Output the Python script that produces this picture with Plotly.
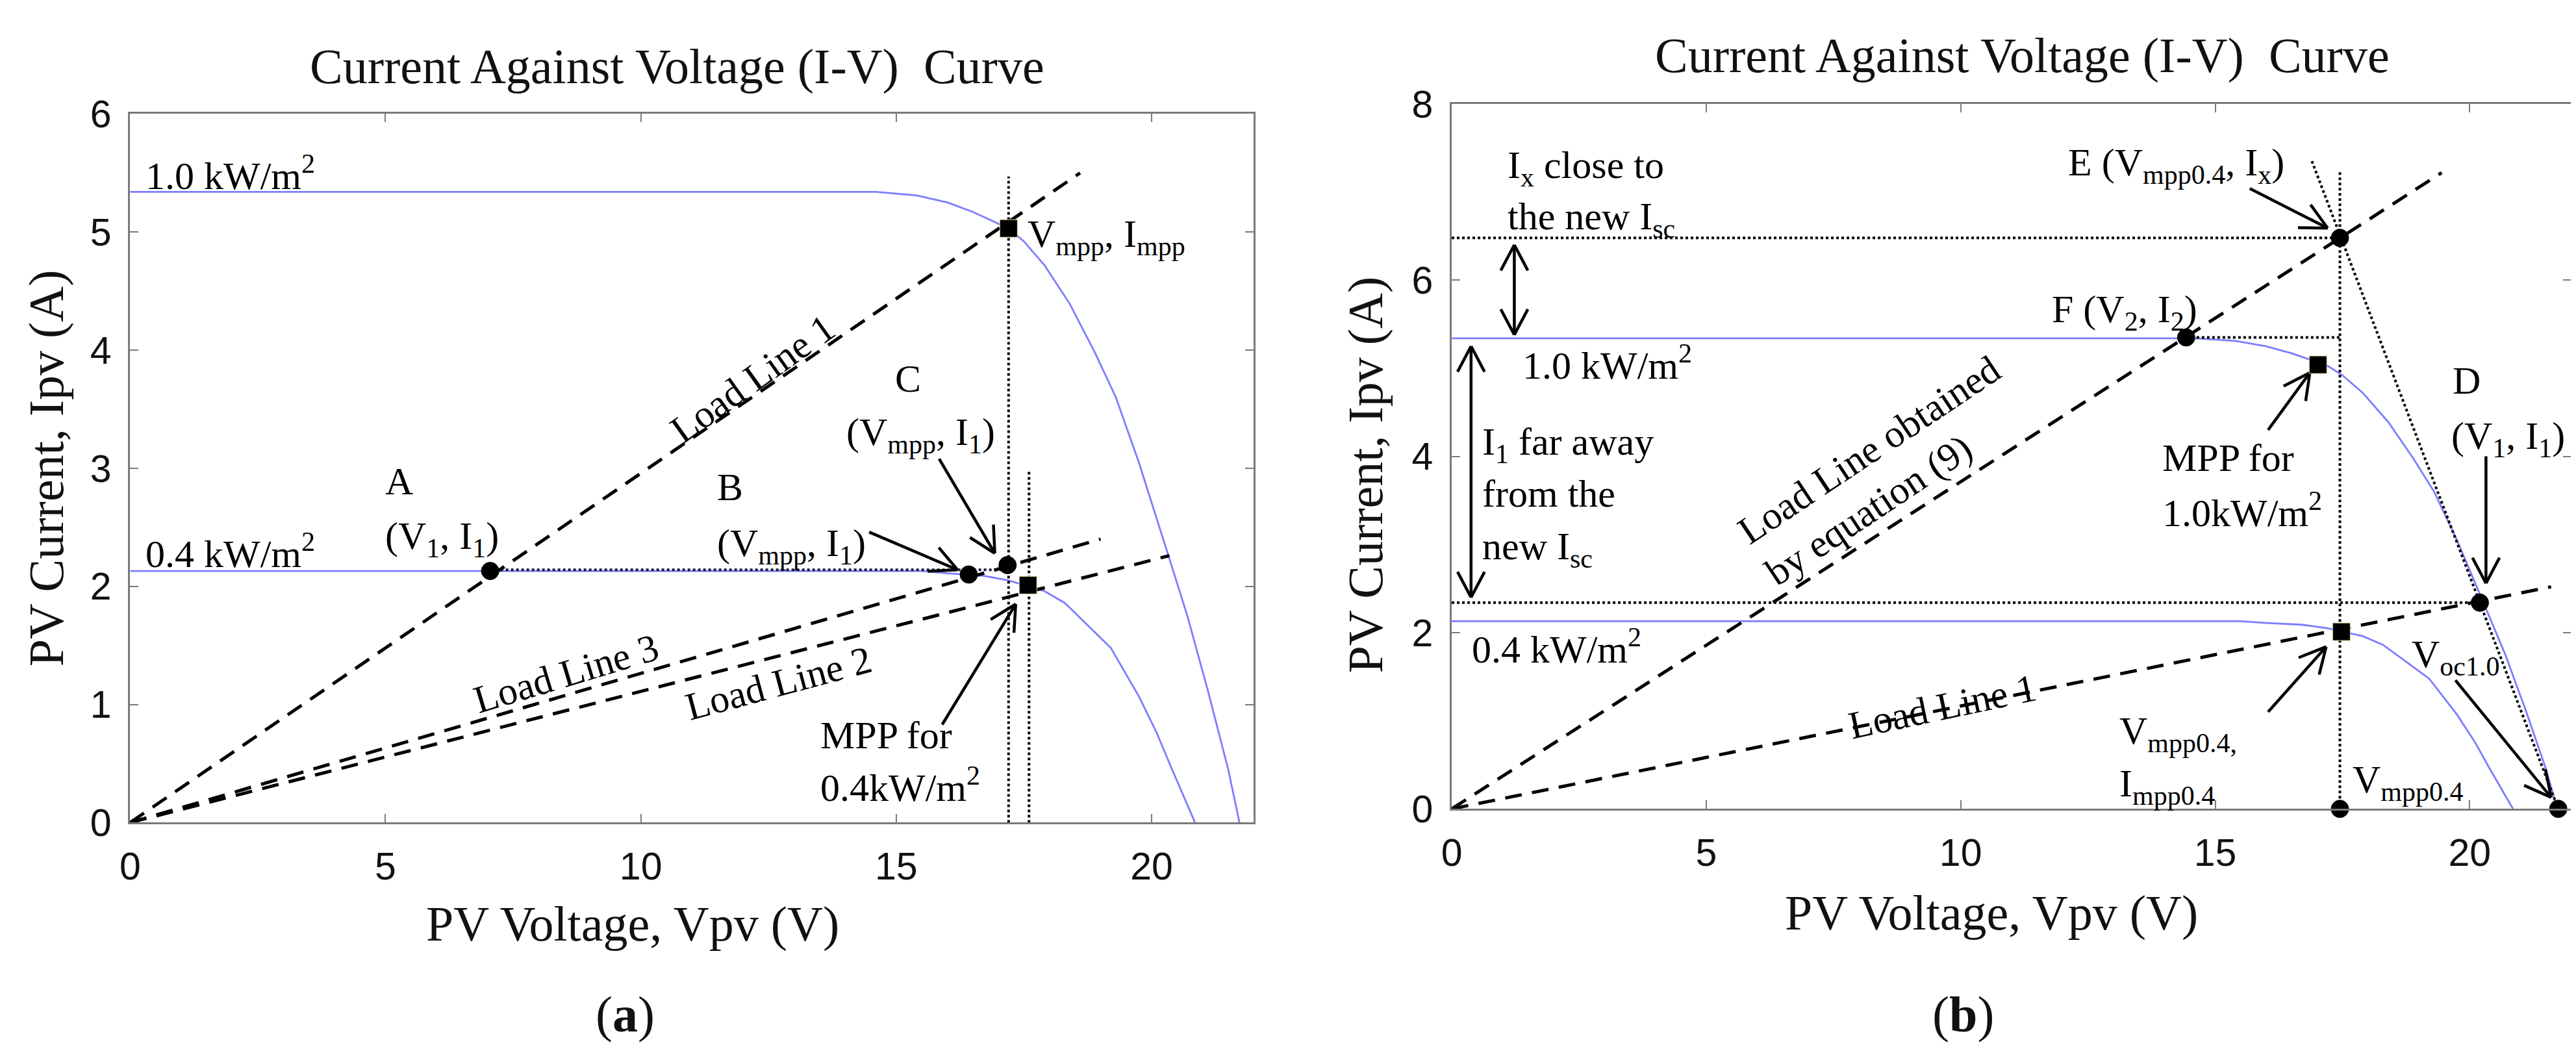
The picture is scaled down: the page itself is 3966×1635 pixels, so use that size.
import math
import plotly.graph_objects as go

W, H = 3966, 1635

# ---------------- data ----------------
# I-V curves (shared by both panels)
V_1000 = [0, 14.6, 15.4, 16.0, 16.5, 17.0, 17.2, 17.5, 17.9, 18.4, 18.9, 19.3, 19.75, 20.3, 20.7, 21.1, 21.5, 21.72]
I_1000 = [5.34, 5.34, 5.31, 5.25, 5.17, 5.07, 5.03, 4.92, 4.72, 4.39, 3.97, 3.60, 3.05, 2.30, 1.75, 1.12, 0.45, 0.0]
V_400 = [0, 15.5, 16.0, 16.7, 17.2, 17.5, 17.9, 18.3, 18.8, 19.2, 19.75, 20.1, 20.4, 20.85]
I_400 = [2.13, 2.13, 2.11, 2.09, 2.05, 2.01, 1.96, 1.86, 1.65, 1.48, 1.07, 0.76, 0.45, 0.0]

X_TICKS = [0, 5, 10, 15, 20]
YA_TICKS = [0, 1, 2, 3, 4, 5, 6]
YB_TICKS = [0, 2, 4, 6, 8]

# panel (a)
A_LL1_V, A_LL1_I = [0, 18.6], [0, 5.5]
A_LL3_V, A_LL3_I = [0, 19.0], [0, 2.40]
A_LL2_V, A_LL2_I = [0, 20.35], [0, 2.26]
A_DOTH_V, A_DOTH_I = [7.05, 17.2], [2.14, 2.14]
A_DOTV1_V, A_DOTV1_I = [17.2, 17.2], [0, 5.47]
A_DOTV2_V, A_DOTV2_I = [17.6, 17.6], [0, 2.98]
A_CIRC_V, A_CIRC_I = [7.05, 16.42, 17.18], [2.13, 2.10, 2.18]
A_SQ_V, A_SQ_I = [17.2, 17.58], [5.03, 2.01]

# panel (b)
B_LLEQ_V, B_LLEQ_I = [0, 19.45], [0, 7.22]
B_LL1_V, B_LL1_I = [0, 21.6], [0, 2.52]
B_STEEP_V, B_STEEP_I = [16.9, 21.74], [7.35, 0]
B_DOTH1_V, B_DOTH1_I = [0, 17.45], [6.48, 6.48]
B_DOTH2_V, B_DOTH2_I = [14.43, 17.45], [5.35, 5.35]
B_DOTH3_V, B_DOTH3_I = [0, 20.2], [2.34, 2.34]
B_DOTV_V, B_DOTV_I = [17.45, 17.45], [0, 7.25]
B_CIRC_V, B_CIRC_I = [17.45, 14.43, 20.2], [6.48, 5.35, 2.34]
B_CIRC0_V, B_CIRC0_I = [17.45, 21.74], [0, 0]
B_SQ_V, B_SQ_I = [17.02, 17.48], [5.04, 2.01]

# ---------------- layout geometry ----------------
XA_DOM = [177 / W, 1914 / W]
YA_DOM = [1 - 1278 / H, 1 - 141 / H]
XB_DOM = [2220 / W, 3951 / W]
YB_DOM = [1 - 1256 / H, 1 - 125 / H]
XR = [0, 22]
YA_R = [0, 6]
YB_R = [0, 8]

SERIF = "Liberation Serif"
SANS = "Liberation Sans"
BLUE = "#7d7dff"

def scale(xd, yd, xr, yr):
    return (xd[1] - xd[0]) * W / (xr[1] - xr[0]), (yd[1] - yd[0]) * H / (yr[1] - yr[0])

SA = scale(XA_DOM, YA_DOM, XR, YA_R)
SB = scale(XB_DOM, YB_DOM, XR, YB_R)

def arrows_path(items, s, L=46, ang=27):
    sx, sy = s
    xs, ys = [], []
    def barbs(tip, frm):
        dxp = (frm[0] - tip[0]) * sx
        dyp = (frm[1] - tip[1]) * sy
        n = math.hypot(dxp, dyp)
        ux, uy = dxp / n, dyp / n
        for sg in (1, -1):
            a = math.radians(ang * sg)
            rx = ux * math.cos(a) - uy * math.sin(a)
            ry = ux * math.sin(a) + uy * math.cos(a)
            xs.extend([tip[0], tip[0] + rx * L / sx, None])
            ys.extend([tip[1], tip[1] + ry * L / sy, None])
    for tail, head, both in items:
        xs.extend([tail[0], head[0], None])
        ys.extend([tail[1], head[1], None])
        barbs(head, tail)
        if both:
            barbs(tail, head)
    return xs, ys

A_ARROWS = [((14.47, 2.46), (16.2, 2.14), False),
            ((15.84, 3.08), (16.93, 2.28), False),
            ((15.9, 0.83), (17.34, 1.85), False)]
B_ARROWS = [((15.68, 7.04), (17.21, 6.59), False),
            ((1.23, 5.38), (1.23, 6.40), True),
            ((0.38, 2.40), (0.38, 5.25), True),
            ((20.32, 4.0), (20.32, 2.56), False),
            ((16.04, 4.3), (16.86, 4.95), False),
            ((16.04, 1.10), (17.18, 1.84), False),
            ((19.72, 1.46), (21.6, 0.13), False)]

fig = go.Figure()

def line(x, y, ax, color="black", width=4, dash="solid", clip=True):
    xa, ya = ("x", "y") if ax == 1 else ("x2", "y2")
    fig.add_trace(go.Scatter(x=x, y=y, xaxis=xa, yaxis=ya, mode="lines",
                             line=dict(color=color, width=width, dash=dash),
                             showlegend=False, hoverinfo="skip", cliponaxis=clip))

def marks(x, y, ax, symbol, size=26, clip=True):
    xa, ya = ("x", "y") if ax == 1 else ("x2", "y2")
    fig.add_trace(go.Scatter(x=x, y=y, xaxis=xa, yaxis=ya, mode="markers",
                             marker=dict(symbol=symbol, size=size, color="black",
                                         line=dict(width=1, color="#d8d29a" if symbol == "square" else "black")),
                             showlegend=False, hoverinfo="skip", cliponaxis=clip))

DASH = "26px,16px"
DOT = "dot"

# panel a
line(V_1000, I_1000, 1, BLUE, 2.8)
line(V_400, I_400, 1, BLUE, 2.8)
line(A_DOTH_V, A_DOTH_I, 1, "#1a1a40", 4, DOT)
line(A_DOTV1_V, A_DOTV1_I, 1, "black", 4, DOT)
line(A_DOTV2_V, A_DOTV2_I, 1, "black", 4, DOT)
line(A_LL1_V, A_LL1_I, 1, "black", 5, DASH)
line(A_LL3_V, A_LL3_I, 1, "black", 5, DASH)
line(A_LL2_V, A_LL2_I, 1, "black", 5, DASH)
ax_, ay_ = arrows_path(A_ARROWS, SA)
line(ax_, ay_, 1, "black", 4.5)
marks(A_CIRC_V, A_CIRC_I, 1, "circle", 27)
marks(A_SQ_V, A_SQ_I, 1, "square", 27)

# panel b
line(V_1000, I_1000, 2, BLUE, 2.8)
line(V_400, I_400, 2, BLUE, 2.8)
line(B_DOTH1_V, B_DOTH1_I, 2, "black", 4, DOT)
line(B_DOTH2_V, B_DOTH2_I, 2, "black", 4, DOT)
line(B_DOTH3_V, B_DOTH3_I, 2, "black", 4, DOT)
line(B_DOTV_V, B_DOTV_I, 2, "black", 4, DOT)
line(B_STEEP_V, B_STEEP_I, 2, "black", 4, DOT)
line(B_LLEQ_V, B_LLEQ_I, 2, "black", 5, DASH)
line(B_LL1_V, B_LL1_I, 2, "black", 5, DASH)
bx_, by_ = arrows_path(B_ARROWS, SB)
line(bx_, by_, 2, "black", 4.5)
marks(B_CIRC_V, B_CIRC_I, 2, "circle", 27)
marks(B_CIRC0_V, B_CIRC0_I, 2, "circle", 27, clip=False)
marks(B_SQ_V, B_SQ_I, 2, "square", 27)

# ---------------- annotations ----------------
ann = []
def txt(text, x, y, ax=1, xanchor="left", size=60, angle=0, yanchor="middle"):
    xr_, yr_ = ("x", "y") if ax == 1 else ("x2", "y2")
    ann.append(dict(text=text, x=x, y=y, xref=xr_, yref=yr_, showarrow=False,
                    xanchor=xanchor, yanchor=yanchor, textangle=angle,
                    font=dict(family=SERIF, size=size, color="black")))

def ptxt(text, x, y, size=76, angle=0):
    ann.append(dict(text=text, x=x, y=y, xref="paper", yref="paper", showarrow=False,
                    xanchor="center", yanchor="middle", textangle=angle,
                    font=dict(family=SERIF, size=size, color="#111")))

# panel a texts
txt("1.0 kW/m<sup>2</sup>", 0.28, 5.50)
txt("0.4 kW/m<sup>2</sup>", 0.28, 2.30)
txt("A", 4.97, 2.89)
txt("(V<sub>1</sub>, I<sub>1</sub>)", 4.97, 2.40)
txt("B", 11.47, 2.84)
txt("(V<sub>mpp</sub>, I<sub>1</sub>)", 11.47, 2.34)
txt("C", 15.23, 3.76, xanchor="center")
txt("(V<sub>mpp</sub>, I<sub>1</sub>)", 14.0, 3.28)
txt("V<sub>mpp</sub>, I<sub>mpp</sub>", 17.55, 4.96)
txt("Load Line 1", 12.19, 3.76, xanchor="center", angle=-35.5)
txt("Load Line 3", 8.54, 1.26, xanchor="center", angle=-16.8)
txt("Load Line 2", 12.69, 1.18, xanchor="center", angle=-15)
txt("MPP for", 13.49, 0.74)
txt("0.4kW/m<sup>2</sup>", 13.49, 0.32)

# panel b texts
txt("I<sub>x</sub> close to", 1.07, 7.27, 2)
txt("the new I<sub>sc</sub>", 1.07, 6.69, 2)
txt("1.0 kW/m<sup>2</sup>", 1.36, 5.06, 2)
txt("I<sub>1</sub> far away", 0.57, 4.13, 2)
txt("from the", 0.57, 3.58, 2)
txt("new I<sub>sc</sub>", 0.57, 2.95, 2)
txt("0.4 kW/m<sup>2</sup>", 0.37, 1.84, 2)
txt("Load Line obtained", 8.2, 4.07, 2, xanchor="center", angle=-33.7)
txt("by equation (9)", 8.2, 3.39, 2, xanchor="center", angle=-33.7)
txt("Load Line 1", 9.64, 1.16, 2, xanchor="center", angle=-11.9)
txt("F (V<sub>2</sub>, I<sub>2</sub>)", 14.67, 5.64, 2, xanchor="right")
txt("MPP for", 13.94, 3.98, 2)
txt("1.0kW/m<sup>2</sup>", 13.94, 3.39, 2)
txt("E (V<sub>mpp0.4</sub>, I<sub>x</sub>)", 12.09, 7.30, 2)
txt("D", 19.64, 4.86, 2)
txt("(V<sub>1</sub>, I<sub>1</sub>)", 19.61, 4.20, 2)
txt("V<sub>oc1.0</sub>", 18.84, 1.72, 2)
txt("V<sub>mpp0.4,</sub>", 13.09, 0.85, 2)
txt("I<sub>mpp0.4</sub>", 13.09, 0.26, 2)
txt("V<sub>mpp0.4</sub>", 17.67, 0.30, 2)

# titles / axis titles / panel labels
ptxt("Current Against Voltage (I-V)  Curve", 1023 / W, 1 - 65 / H)
ptxt("Current Against Voltage (I-V)  Curve", 3102 / W, 1 - 47 / H)
ptxt("PV Voltage, Vpv (V)", 954 / W, 1 - 1441 / H)
ptxt("PV Voltage, Vpv (V)", 3054 / W, 1 - 1423 / H)
ptxt("PV Current, Ipv (A)", 48 / W, 1 - 709 / H, angle=-90)
ptxt("PV Current, Ipv (A)", 2087 / W, 1 - 720 / H, angle=-90)
ptxt("(<b>a</b>)", 942 / W, 1 - 1585 / H, size=78)
ptxt("(<b>b</b>)", 3011 / W, 1 - 1585 / H, size=78)

axis_common = dict(showline=True, mirror="ticks", linecolor="#7a7a7a", linewidth=3,
                   ticks="inside", ticklen=13, tickwidth=2, tickcolor="#7a7a7a",
                   showgrid=False, zeroline=False,
                   tickfont=dict(family=SANS, size=59, color="#111"))

fig.update_layout(
    width=W, height=H,
    margin=dict(l=0, r=0, t=0, b=0),
    paper_bgcolor="white", plot_bgcolor="white",
    showlegend=False,
    xaxis=dict(domain=XA_DOM, range=XR, tickvals=X_TICKS, anchor="y", ticklabelstandoff=14, **axis_common),
    yaxis=dict(domain=YA_DOM, range=YA_R, tickvals=YA_TICKS, anchor="x", ticklabelstandoff=14, **axis_common),
    xaxis2=dict(domain=XB_DOM, range=XR, tickvals=X_TICKS, anchor="y2", ticklabelstandoff=14, **axis_common),
    yaxis2=dict(domain=YB_DOM, range=YB_R, tickvals=YB_TICKS, anchor="x2", ticklabelstandoff=14, **axis_common),
    annotations=ann,
)

fig.write_html("out.html")
